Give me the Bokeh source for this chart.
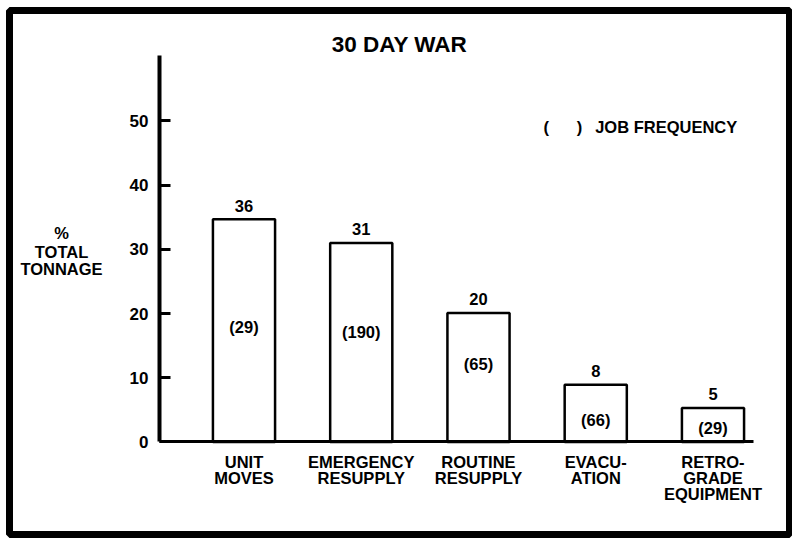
from bokeh.plotting import figure
from bokeh.models import Range1d, LinearAxis, FixedTicker, ColumnDataSource
from bokeh.core.properties import value
from bokeh.embed import file_html
from bokeh.resources import INLINE

# ---- data ----
categories = ["UNIT\nMOVES", "EMERGENCY\nRESUPPLY", "ROUTINE\nRESUPPLY",
              "EVACU-\nATION", "RETRO-\nGRADE\nEQUIPMENT"]
bar_heights = [34.7, 31.0, 20.1, 8.9, 5.3]          # % total tonnage as drawn
tonnage_labels = ["36", "31", "20", "8", "5"]        # printed values
job_frequency = ["(29)", "(190)", "(65)", "(66)", "(29)"]
freq_label_y = [17.9, 17.1, 12.1, 3.5, 2.2]
y_ticks = [0, 10, 20, 30, 40, 50]

FONT = value("Liberation Sans")
xs = list(range(1, len(categories) + 1))

src = ColumnDataSource(dict(
    x=xs, top=bar_heights, lab=tonnage_labels,
    lab_y=[h + 2.1 for h in bar_heights],
    freq=job_frequency, freq_y=freq_label_y,
))

p = figure(width=792, height=539,
           x_range=Range1d(-1.0, 5.6525), y_range=Range1d(-14.41, 67.21),
           x_axis_location=None, y_axis_location=None,
           toolbar_location=None, output_backend="svg",
           min_border_left=9, min_border_top=10,
           min_border_right=3, min_border_bottom=5)
p.grid.visible = False
p.background_fill_color = "white"
p.border_fill_color = "white"
p.outline_line_color = "black"
p.outline_line_width = 7

# bars
p.vbar(x="x", top="top", bottom=0, width=0.53, source=src,
       fill_color="white", line_color="black", line_width=2.5)

common = dict(text_font=FONT, text_font_style="bold", text_color="black",
              text_align="center", text_baseline="middle")
p.text(x="x", y="lab_y", text="lab", source=src, text_font_size="16.5px", **common)
p.text(x="x", y="freq_y", text="freq", source=src, text_font_size="16.5px", **common)

# y axis
yax = LinearAxis(fixed_location=0.2793, bounds=(0, 60.2),
                 ticker=FixedTicker(ticks=y_ticks))
yax.axis_line_width = 4
yax.axis_line_color = "black"
yax.major_tick_in = 11
yax.major_tick_out = 0
yax.major_tick_line_width = 3
yax.minor_tick_line_color = None
yax.major_label_standoff = 11
yax.major_label_text_font = "Liberation Sans"
yax.major_label_text_font_style = "bold"
yax.major_label_text_font_size = "17px"
yax.major_label_text_color = "black"
p.add_layout(yax, "left")

# x axis
xax = LinearAxis(fixed_location=0, bounds=(0.2793, 5.345),
                 ticker=FixedTicker(ticks=xs),
                 major_label_overrides={x: c for x, c in zip(xs, categories)})
xax.axis_line_width = 3
xax.axis_line_color = "black"
xax.major_tick_line_color = None
xax.minor_tick_line_color = None
xax.major_label_standoff = 5
xax.major_label_text_font = "Liberation Sans"
xax.major_label_text_font_style = "bold"
xax.major_label_text_font_size = "16.5px"
xax.major_label_text_color = "black"
xax.major_label_text_line_height = 0.9
p.add_layout(xax, "below")

# title
p.text(x=[2.326], y=[61.9], text=["30 DAY WAR"], text_font_size="22.5px", **common)

# legend note
p.text(x=[3.577, 3.861], y=[49.1, 49.1], text=["(", ")"], text_font_size="16.5px", **common)
p.text(x=[3.995], y=[49.1], text=["JOB FREQUENCY"], text_font_size="16.5px",
       text_font=FONT, text_font_style="bold", text_color="black",
       text_align="left", text_baseline="middle")

# y axis title
p.text(x=[-0.5565] * 3, y=[32.55, 29.67, 26.95], text=["%", "TOTAL", "TONNAGE"],
       text_font_size="16.5px", **common)

open("out.html", "w").write(file_html(p, INLINE))
